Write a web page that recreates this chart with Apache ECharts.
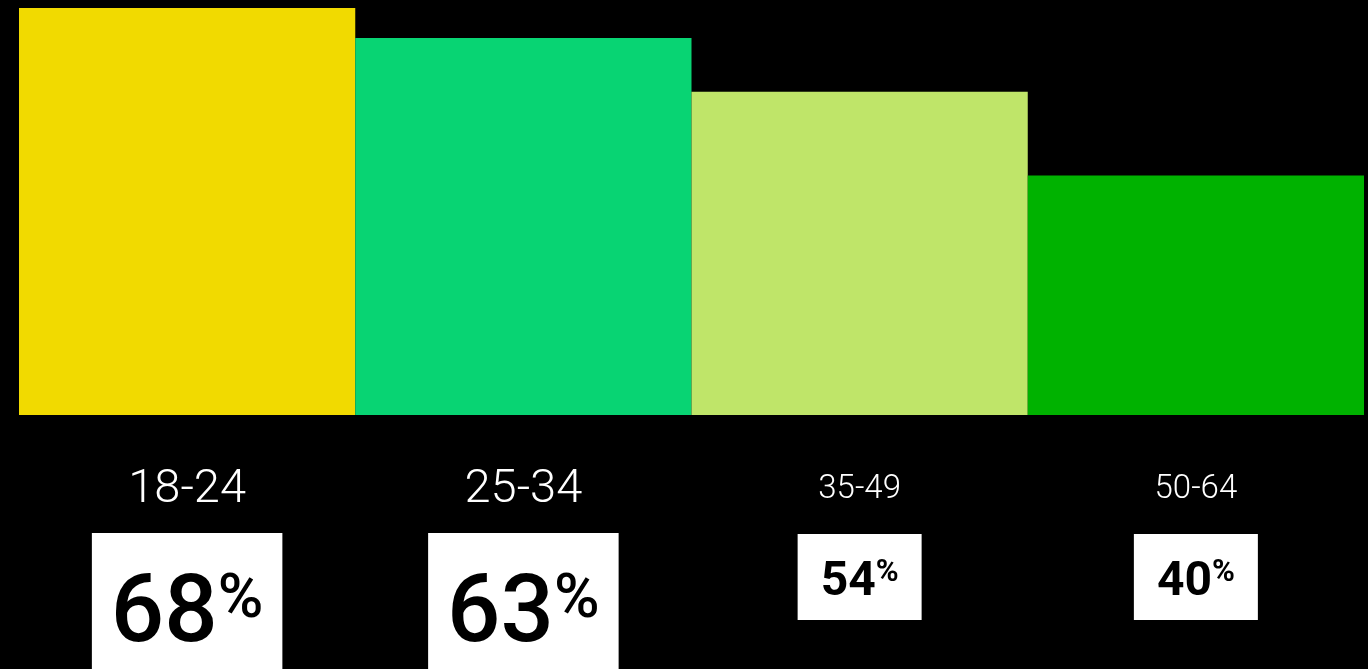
<!DOCTYPE html>
<html>
<head>
<meta charset="utf-8">
<script src="https://cdn.jsdelivr.net/npm/echarts@6/dist/echarts.min.js"></script>
<style>
html,body{margin:0;padding:0;background:#000;}
#chart{width:1368px;height:669px;}
</style>
</head>
<body>
<div id="chart"></div>
<script>
const categories = ['18-24', '25-34', '35-49', '50-64'];
const values = [68, 63, 54, 40];
const emphasised = [true, true, false, false];
const barColors = ['#f1da00', '#08d473', '#bfe569', '#00b200'];

const bigBox = {
  backgroundColor: '#fff',
  padding: [37, 19, 20, 19],
  offset: [0, 118]
};
const smallBox = {
  backgroundColor: '#fff',
  padding: [24, 23, 13, 23],
  offset: [0, 119]
};

const data = values.map((v, i) => ({
  value: v,
  label: Object.assign({
    formatter: emphasised[i] ? '{bn|{c}}{bp|%}' : '{sn|{c}}{sp|%}'
  }, emphasised[i] ? bigBox : smallBox)
}));

const chart = echarts.init(document.getElementById('chart'));
chart.setOption({
  backgroundColor: '#000',
  color: barColors,
  animation: false,
  grid: { left: 19, right: 4, top: 8, bottom: 254, containLabel: false },
  xAxis: {
    type: 'category',
    data: categories,
    axisLine: { show: false },
    axisTick: { show: false },
    axisLabel: {
      interval: 0,
      margin: 51,
      color: '#fff',
      formatter: (val, idx) => emphasised[idx] ? '{big|' + val + '}' : '{small|' + val + '}',
      rich: {
        big: { fontFamily: 'Roboto', fontWeight: 300, fontSize: 47, lineHeight: 48, color: '#fff' },
        small: { fontFamily: 'Roboto', fontWeight: 300, fontSize: 33, lineHeight: 48, color: '#fff' }
      }
    }
  },
  yAxis: {
    type: 'value',
    min: 0,
    max: 68,
    show: false,
    splitLine: { show: false }
  },
  series: [{
    type: 'bar',
    colorBy: 'data',
    barCategoryGap: 0,
    data: data,
    label: {
      show: true,
      position: ['50%', '100%'],
      align: 'center',
      verticalAlign: 'top',
      rich: {
        bn: { fontFamily: 'Roboto', fontWeight: 500, fontSize: 94, lineHeight: 94, color: '#000' },
        bp: { fontFamily: 'Roboto', fontWeight: 500, fontSize: 62, lineHeight: 94, verticalAlign: 'top', color: '#000' },
        sn: { fontFamily: 'Roboto', fontWeight: 700, fontSize: 48, lineHeight: 49, color: '#000' },
        sp: { fontFamily: 'Roboto', fontWeight: 700, fontSize: 31, lineHeight: 49, verticalAlign: 'top', color: '#000' }
      }
    }
  }]
});
</script>
</body>
</html>
